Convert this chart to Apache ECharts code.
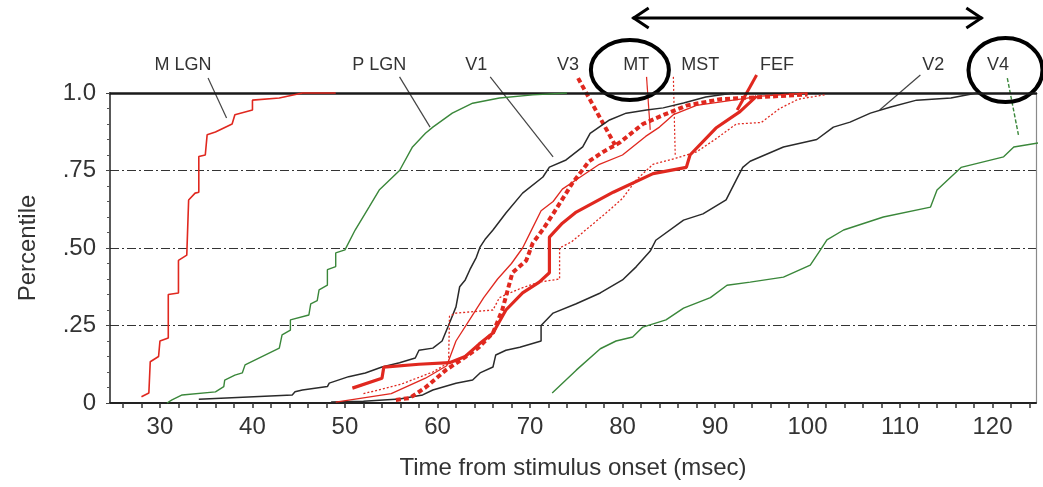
<!DOCTYPE html>
<html><head><meta charset="utf-8">
<script src="https://cdn.jsdelivr.net/npm/echarts@6/dist/echarts.min.js"></script>
<style>html,body{margin:0;padding:0;background:#fff}#c{width:1043px;height:487px}</style>
</head><body><div id="c"></div>
<script>
// ---- axis values ----
const xLabelValues = [30, 40, 50, 60, 70, 80, 90, 100, 110, 120];
const xTickValues = [26,28,30,32,34,36,38,40,42,44,46,48,50,52,54,56,58,60,62,64,66,68,70,72,74,76,78,80,82,84,86,88,90,92,94,96,98,100,102,104,106,108,110,112,114,116,118,120,122,124];
const yTickValues = [0, 0.25, 0.5, 0.75, 1.0];
const yTickLabels = ['0', '.25', '.50', '.75', '1.0'];

// ---- series data: [time (msec), percentile] ----
const mLGN = [[28.0,0.02],[28.8,0.032],[28.95,0.035],[28.95,0.133],[29.85,0.15],[30.0,0.2],[30.9,0.21],[30.9,0.35],[32.0,0.355],[32.0,0.46],[32.9,0.477],[33.1,0.48],[33.1,0.655],[33.8,0.677],[34.2,0.68],[34.2,0.795],[34.9,0.8],[35.1,0.865],[36.0,0.874],[37.8,0.9],[38.1,0.93],[40.0,0.945],[40.0,0.977],[42.9,0.984],[45.4,1.0],[49,1.0]];
const pLGN = [[30.76,0],[31.3,0.01],[32.4,0.026],[36.0,0.036],[36.9,0.053],[37.0,0.074],[38.1,0.09],[38.9,0.097],[39.2,0.123],[42.9,0.177],[43.2,0.22],[44.1,0.235],[44.1,0.268],[46.1,0.284],[46.3,0.32],[47.0,0.33],[47.2,0.365],[48.1,0.38],[48.1,0.43],[49.0,0.44],[49.0,0.484],[50.0,0.494],[51.1,0.558],[52.6,0.632],[53.7,0.687],[55.9,0.75],[57.3,0.826],[58.7,0.87],[59.5,0.89],[61.6,0.935],[63.8,0.967],[66.7,0.984],[70.3,0.994],[74,1.0]];
const v1 = [[34.2,0.012],[44.3,0.026],[44.6,0.036],[45.4,0.042],[48.1,0.053],[48.3,0.064],[50.4,0.085],[52.2,0.097],[54.0,0.116],[55.9,0.13],[57.6,0.145],[58.0,0.17],[59.5,0.177],[60.5,0.2],[61.3,0.258],[62.0,0.31],[62.4,0.375],[63.0,0.397],[63.5,0.43],[64.2,0.47],[64.6,0.503],[65.2,0.53],[66.0,0.558],[67.4,0.613],[69.2,0.677],[71.4,0.729],[72.1,0.761],[73.9,0.784],[75.7,0.826],[76.5,0.87],[78.6,0.913],[80.4,0.935],[82.6,0.945],[84.4,0.952],[86.6,0.968],[89,0.987],[92,1.0]];
const v2 = [[48.5,0.003],[52,0.006],[55.9,0.013],[58.4,0.026],[59.5,0.042],[62.0,0.064],[63.8,0.074],[64.6,0.097],[66.0,0.116],[66.3,0.155],[67.4,0.17],[68.9,0.18],[71.2,0.2],[71.2,0.25],[72.5,0.29],[75.0,0.32],[77.6,0.355],[80.0,0.397],[81.5,0.44],[83.0,0.49],[83.6,0.525],[86.6,0.59],[88.7,0.61],[91.2,0.655],[92.3,0.72],[93.0,0.76],[93.8,0.78],[97.4,0.826],[101.0,0.85],[102.8,0.89],[104.6,0.906],[106.8,0.935],[109.0,0.955],[111.8,0.977],[115.5,0.984],[118.3,1.0]];
const v4 = [[72.4,0.032],[75.0,0.106],[77.6,0.175],[79.3,0.2],[81.1,0.213],[82.2,0.245],[84.7,0.268],[86.6,0.306],[89.5,0.34],[91.3,0.38],[93.8,0.39],[97.4,0.406],[100.3,0.445],[101.4,0.494],[102.1,0.526],[103.9,0.558],[108.2,0.6],[113.3,0.632],[114.0,0.687],[116.6,0.76],[121.2,0.794],[122.3,0.826],[125,0.839]];
const v3 = [[55.5,0.01],[57,0.016],[58.7,0.05],[60.9,0.106],[63,0.148],[64.5,0.18],[66,0.226],[67,0.3],[68.1,0.42],[69.6,0.46],[70.3,0.516],[71.4,0.56],[72.5,0.61],[74.6,0.71],[76.4,0.78],[77.9,0.81],[79.7,0.84],[82.2,0.9],[84.5,0.93],[87,0.96],[90.6,0.98],[100,0.995]];
const mt = [[49,0.003],[55,0.03],[58.7,0.08],[61,0.12],[62,0.2],[63.5,0.27],[65,0.34],[66.5,0.4],[68,0.45],[69.2,0.5],[70.2,0.56],[71.2,0.62],[72.5,0.65],[73.5,0.69],[75,0.72],[77.5,0.77],[80,0.8],[82.5,0.86],[84,0.89],[85.5,0.93],[88,0.96],[95,0.99],[100,1.0]];
const mst = [[52,0.03],[56,0.06],[59.5,0.1],[61.2,0.13],[61.3,0.28],[62,0.29],[66,0.3],[66.7,0.34],[69,0.37],[71,0.39],[73.2,0.4],[73.2,0.5],[74.5,0.52],[76.5,0.57],[78.5,0.62],[80,0.66],[81.5,0.72],[83.3,0.77],[85.8,0.79],[88,0.81],[90,0.85],[92.3,0.9],[95,0.905],[97,0.95],[99,0.98],[102,0.995]];
const fef = [[50.8,0.048],[54.0,0.08],[54.2,0.116],[58,0.125],[61.3,0.13],[63,0.15],[64.5,0.19],[66,0.226],[67.4,0.3],[69.2,0.355],[71,0.39],[72.1,0.42],[72.1,0.535],[73.5,0.58],[75,0.616],[79,0.68],[83.3,0.74],[86.9,0.76],[87.3,0.8],[90.1,0.887],[92.7,0.94],[94.5,0.99]];

// ---- annotation labels (data coords) ----
const labelNames = ['M LGN','P LGN','V1','V3','MT','MST','FEF','V2','V4'];
const labelX = [32.5, 53.7, 64.2, 74.1, 81.5, 88.4, 96.7, 113.6, 120.6];
const labelY = 1.09;
const leaderFrom = [[35.2,1.048],[55.9,1.052],[65.7,1.052],[75.2,1.048],[82.6,1.052],[85.5,1.052],[94.5,1.058],[112.2,1.058],[121.6,1.048]];
const leaderTo = [[37.2,0.919],[59.2,0.89],[72.5,0.794],[79.2,0.832],[83.0,0.881],[85.7,0.8],[92.4,0.945],[107.8,0.945],[122.8,0.865]];
const circleCenters = [[80.8,1.074],[121.4,1.074]];
const arrowEnds = [[81.1,1.242],[118.9,1.242]];

const RED = '#e0281f', GREEN = '#3a873a', BLACK = '#2a2a2a';
const styles = {
  'M LGN': {color: RED, width: 1.6, type: 'solid'},
  'P LGN': {color: GREEN, width: 1.4, type: 'solid'},
  'V1': {color: BLACK, width: 1.5, type: 'solid'},
  'V2': {color: BLACK, width: 1.5, type: 'solid'},
  'V4': {color: GREEN, width: 1.4, type: 'solid'},
  'V3': {color: RED, width: 4, type: [5, 3]},
  'MT': {color: RED, width: 1.3, type: 'solid'},
  'MST': {color: RED, width: 1.3, type: [2, 2]},
  'FEF': {color: RED, width: 3.2, type: 'solid'}
};
const leaderStyles = {
  'M LGN': {color: '#444', width: 1.2, type: 'solid'},
  'P LGN': {color: '#444', width: 1.2, type: 'solid'},
  'V1': {color: '#444', width: 1.2, type: 'solid'},
  'V3': {color: RED, width: 4, type: [5, 3]},
  'MT': {color: RED, width: 1.2, type: 'solid'},
  'MST': {color: RED, width: 1.2, type: [2, 2]},
  'FEF': {color: RED, width: 3, type: 'solid'},
  'V2': {color: '#444', width: 1.2, type: 'solid'},
  'V4': {color: GREEN, width: 1.4, type: [4, 2]}
};
const seriesDefs = [['P LGN', pLGN], ['V1', v1], ['V2', v2], ['V4', v4], ['M LGN', mLGN], ['MT', mt], ['MST', mst], ['V3', v3], ['FEF', fef]];

const FONT = 'Liberation Sans, Arial, sans-serif';
const chart = echarts.init(document.getElementById('c'), null, {renderer: 'canvas'});
const XMIN = 24.6, XMAX = 124.7;
const option = {
  backgroundColor: '#fff',
  animation: false,
  grid: {left: 110, right: 7, top: 93, bottom: 84, containLabel: false},
  xAxis: [{
    type: 'value', min: XMIN, max: XMAX,
    name: 'Time from stimulus onset (msec)', nameLocation: 'middle', nameGap: 53,
    nameTextStyle: {fontFamily: FONT, fontSize: 24, color: '#333'},
    axisLine: {show: true, onZero: false, lineStyle: {color: '#222', width: 2}},
    axisTick: {show: true, customValues: xTickValues, length: 5, inside: false, lineStyle: {color: '#333', width: 1.5}},
    axisLabel: {customValues: xLabelValues, margin: 12, fontFamily: FONT, fontSize: 24, color: '#333'},
    splitLine: {show: false}
  }, {
    type: 'value', position: 'top', min: XMIN, max: XMAX,
    axisLine: {show: true, onZero: false, lineStyle: {color: '#1a1a1a', width: 2.5}},
    axisTick: {show: false}, axisLabel: {show: false}, splitLine: {show: false}
  }],
  yAxis: [{
    type: 'value', min: 0, max: 1, interval: 0.25,
    name: 'Percentile', nameLocation: 'middle', nameGap: 70, nameRotate: 90,
    nameTextStyle: {fontFamily: FONT, fontSize: 24, color: '#333'},
    axisLine: {show: true, onZero: false, lineStyle: {color: '#222', width: 1.5}},
    axisTick: {show: true, length: 4, lineStyle: {color: '#444'}},
    minorTick: {show: true, splitNumber: 5, length: 3, lineStyle: {color: '#555'}},
    axisLabel: {margin: 14, fontFamily: FONT, fontSize: 24, color: '#333',
      formatter: v => { const i = yTickValues.findIndex(t => Math.abs(t - v) < 1e-6); return i >= 0 ? yTickLabels[i] : ''; }},
    splitLine: {show: true, lineStyle: {color: '#333', width: 1, type: [9, 3, 2, 3]}}
  }, {
    type: 'value', position: 'right', min: 0, max: 1,
    axisLine: {show: true, onZero: false, lineStyle: {color: '#8a8a8a', width: 1.2}},
    axisTick: {show: false}, axisLabel: {show: false}, splitLine: {show: false}
  }],
  series: seriesDefs.map(([name, data]) => ({
    name, type: 'line', data, xAxisIndex: 0, yAxisIndex: 0,
    symbol: 'none', smooth: false, silent: true, clip: false,
    lineStyle: {color: styles[name].color, width: styles[name].width, type: styles[name].type}
  }))
};
chart.setOption(option);

function px(p) { return chart.convertToPixel({gridIndex: 0}, p); }
const graphics = [];
labelNames.forEach((n, i) => {
  const p = px([labelX[i], labelY]);
  graphics.push({type: 'text', x: p[0], y: p[1], silent: true,
    style: {text: n, font: '18px ' + FONT, fill: '#333', textAlign: 'center', textVerticalAlign: 'middle'}});
  const a = px(leaderFrom[i]), b = px(leaderTo[i]);
  const ls = leaderStyles[n];
  graphics.push({type: 'line', silent: true, shape: {x1: a[0], y1: a[1], x2: b[0], y2: b[1]},
    style: {stroke: ls.color, lineWidth: ls.width, lineDash: Array.isArray(ls.type) ? ls.type : null}});
});
const radii = [[39, 30], [37, 32]];
circleCenters.forEach((c, i) => {
  const p = px(c);
  graphics.push({type: 'ellipse', silent: true, shape: {cx: p[0], cy: p[1], rx: radii[i][0], ry: radii[i][1]},
    style: {fill: 'none', stroke: '#000', lineWidth: 4}});
});
const a0 = px(arrowEnds[0]), a1 = px(arrowEnds[1]);
graphics.push({type: 'line', silent: true, shape: {x1: a0[0], y1: a0[1], x2: a1[0], y2: a1[1]}, style: {stroke: '#000', lineWidth: 3}});
graphics.push({type: 'polyline', silent: true, shape: {points: [[a0[0] + 16, a0[1] - 10], [a0[0] + 1, a0[1]], [a0[0] + 16, a0[1] + 10]]}, style: {stroke: '#000', lineWidth: 3, fill: 'none'}});
graphics.push({type: 'polyline', silent: true, shape: {points: [[a1[0] - 16, a1[1] - 10], [a1[0] - 1, a1[1]], [a1[0] - 16, a1[1] + 10]]}, style: {stroke: '#000', lineWidth: 3, fill: 'none'}});
chart.setOption({graphic: graphics});
</script>
</body></html>
